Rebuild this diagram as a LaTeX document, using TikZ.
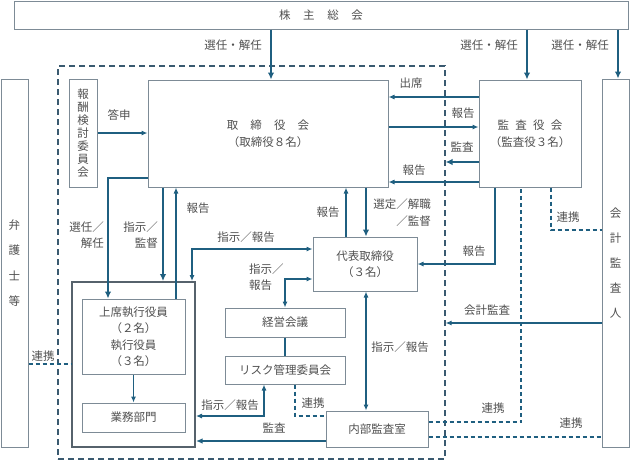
\documentclass[tikz,border=0pt]{standalone}
\usepackage{fontspec}
\setmainfont{Noto Sans CJK JP}
\usetikzlibrary{arrows.meta,calc}
\definecolor{ln}{HTML}{1F5F80}
\definecolor{bx}{HTML}{7D8B96}
\definecolor{tx}{HTML}{505050}
\definecolor{dsh}{HTML}{3A5A70}
\definecolor{exb}{HTML}{56626C}
\newcommand\myfs{\fontsize{11.5}{13}\selectfont}
\begin{document}
\begin{tikzpicture}[x=1pt,y=-1pt,
 box/.style={draw=bx, line width=1pt, fill=white, text=tx, inner sep=0pt, align=center, font=\myfs},
 lbl/.style={text=tx, inner sep=0pt, align=center, font=\myfs},
 thinarr/.style={draw=ln, line width=1.1pt, -{Latex[length=6pt,width=5pt]}},
 medarr/.style={draw=ln, line width=1.6pt, -{Latex[length=6.5pt,width=5.5pt]}},
 thkarr/.style={draw=ln, line width=2.4pt, line join=miter, -{Latex[length=7pt,width=6.5pt]}},
 botharr/.style={draw=ln, line width=1.1pt, {Latex[length=6pt,width=5pt]}-{Latex[length=6pt,width=5pt]}},
 lnk/.style={draw=ln, line width=1.1pt, dash pattern=on 4pt off 3pt},
]
\useasboundingbox (0,0) rectangle (630,461);

% outer dashed frame
\node[draw=dsh, line width=1.1pt, dash pattern=on 6pt off 4pt, inner sep=0pt,
  minimum width=387pt, minimum height=393pt] (org) at (251.5,262.5) {};

% boxes
\node[box, minimum width=614pt, minimum height=28pt] (sh) at (321,15)
  {株\kern1.1em 主\kern1.1em 総\kern1.1em 会};
\node[box, minimum width=27pt, minimum height=368pt, font=\fontsize{11.5}{25.5}\selectfont] (law) at (14.5,263)
  {弁\\護\\士\\等};
\node[box, minimum width=28pt, minimum height=108pt] (hosh) at (83,133)
  {報\\酬\\検\\討\\委\\員\\会};
\node[box, minimum width=240pt, minimum height=107pt, font=\fontsize{11.5}{17}\selectfont] (board) at (268,133.5)
  {取\kern1.05em 締\kern1.05em 役\kern1.05em 会\\（取締役８名）};
\node[box, minimum width=102pt, minimum height=107pt, font=\fontsize{11.5}{17}\selectfont] (kansa) at (530,133.5)
  {監\kern0.55em 査\kern0.55em 役\kern0.55em 会\\（監査役３名）};
\node[box, minimum width=27pt, minimum height=368pt, font=\fontsize{11.5}{25}\selectfont] (aud) at (615.5,263)
  {会\\計\\監\\査\\人};
\node[draw=exb, line width=2pt, inner sep=0pt, minimum width=123pt, minimum height=165pt] (exec) at (133.5,364.5) {};
\node[box, minimum width=103pt, minimum height=75pt, font=\fontsize{11.5}{16.5}\selectfont] (off) at (133.5,336.5)
  {上席執行役員\\（２名）\\執行役員\\（３名）};
\node[box, minimum width=103pt, minimum height=29pt] (gyomu) at (133.5,417.5) {業務部門};
\node[box, minimum width=104pt, minimum height=54pt, font=\fontsize{11.5}{15.5}\selectfont] (dai) at (365,264)
  {代表取締役\\（３名）};
\node[box, minimum width=120pt, minimum height=29pt] (keiei) at (285,322.5) {経営会議};
\node[box, minimum width=120pt, minimum height=28pt] (risk) at (285,370) {リスク管理委員会};
\node[box, minimum width=102pt, minimum height=36pt] (naibu) at (377,429) {内部監査室};

% connectors
\draw[thkarr] (271,0 |- sh.south) -- (271,0 |- board.north);
\draw[thkarr] (527,0 |- sh.south) -- (527,0 |- kansa.north);
\draw[thkarr] (618,0 |- sh.south) -- (618,0 |- aud.north);
\draw[thinarr] (hosh.east |- 0,133) -- (board.west |- 0,133);
\draw[thinarr] (kansa.west |- 0,97) -- (board.east |- 0,97);
\draw[thinarr] (board.east |- 0,127) -- (kansa.west |- 0,127);
\draw[thkarr] (kansa.west |- 0,162) -- (org.east |- 0,162);
\draw[thinarr] (kansa.west |- 0,182) -- (board.east |- 0,182);
\draw[thkarr] (board.west |- 0,178) -| (108,0 |- off.north);
\draw[thkarr] (163,0 |- board.south) -- (163,0 |- exec.north);
\draw[thinarr] (176,0 |- off.north) -- (176,0 |- board.south);
\draw[thkarr] (366,0 |- board.south) -- (366,0 |- dai.north);
\draw[thinarr] (346,0 |- dai.north) -- (346,0 |- board.south);
\draw[thinarr] (495,0 |- kansa.south) |- (dai.east |- 0,264);
\draw[botharr] (dai.west |- 0,249) -| (192,0 |- exec.north);
\draw[botharr] (dai.west |- 0,279) -| (keiei.north);
\draw[draw=ln, line width=1.1pt] (keiei.south) -- (risk.north);
\draw[botharr] (366,0 |- dai.south) -- (366,0 |- naibu.north);
\draw[botharr] (264,0 |- risk.south) |- (exec.east |- 0,416);
\draw[lnk] (295,0 |- risk.south) |- (naibu.west |- 0,416);
\draw[medarr] (naibu.west |- 0,441) -- (exec.east |- 0,441);
\draw[lnk] (naibu.east |- 0,422) -| (521,0 |- kansa.south);
\draw[lnk] (naibu.east |- 0,437) -- (aud.west |- 0,437);
\draw[lnk] (551,0 |- kansa.south) |- (aud.west |- 0,230);
\draw[thinarr] (aud.west |- 0,323) -- (org.east |- 0,323);
\draw[lnk] (law.east |- 0,364) -- (exec.west |- 0,364);
\draw[thinarr] (off.south) -- (gyomu.north);

% labels
\node[lbl] (l1) at (233,45) {選任・解任};
\node[lbl] (l2) at (489,45) {選任・解任};
\node[lbl] (l3) at (580,45) {選任・解任};
\node[lbl] (l4) at (119,115) {答申};
\node[lbl] (l5) at (411,83) {出席};
\node[lbl] (l6) at (463,113) {報告};
\node[lbl] (l7) at (462,147) {監査};
\node[lbl] (l8) at (414,170) {報告};
\node[lbl, align=right, anchor=east, font=\fontsize{11.5}{16}\selectfont] (l9) at (104,235) {選任／\\解任};
\node[lbl, align=right, anchor=east, font=\fontsize{11.5}{16}\selectfont] (l10) at (158,235) {指示／\\監督};
\node[lbl] (l11) at (198,208) {報告};
\node[lbl] (l12) at (328,212) {報告};
\node[lbl, align=right, anchor=east, font=\fontsize{11.5}{17}\selectfont] (l13) at (431,213) {選定／解職\\／監督};
\node[lbl] (l14) at (474,251) {報告};
\node[lbl] (l15) at (246,237) {指示／報告};
\node[lbl, align=left, anchor=west, font=\fontsize{11.5}{16}\selectfont] (l16) at (249,277) {指示／\\報告};
\node[lbl] (l17) at (400,347) {指示／報告};
\node[lbl] (l18) at (230,405) {指示／報告};
\node[lbl] (l19) at (313,403) {連携};
\node[lbl] (l20) at (274,428) {監査};
\node[lbl] (l21) at (493,408) {連携};
\node[lbl] (l22) at (571,423) {連携};
\node[lbl] (l23) at (568,217) {連携};
\node[lbl] (l24) at (487,310) {会計監査};
\node[lbl] (l25) at (43,356) {連携};
\end{tikzpicture}
\end{document}
